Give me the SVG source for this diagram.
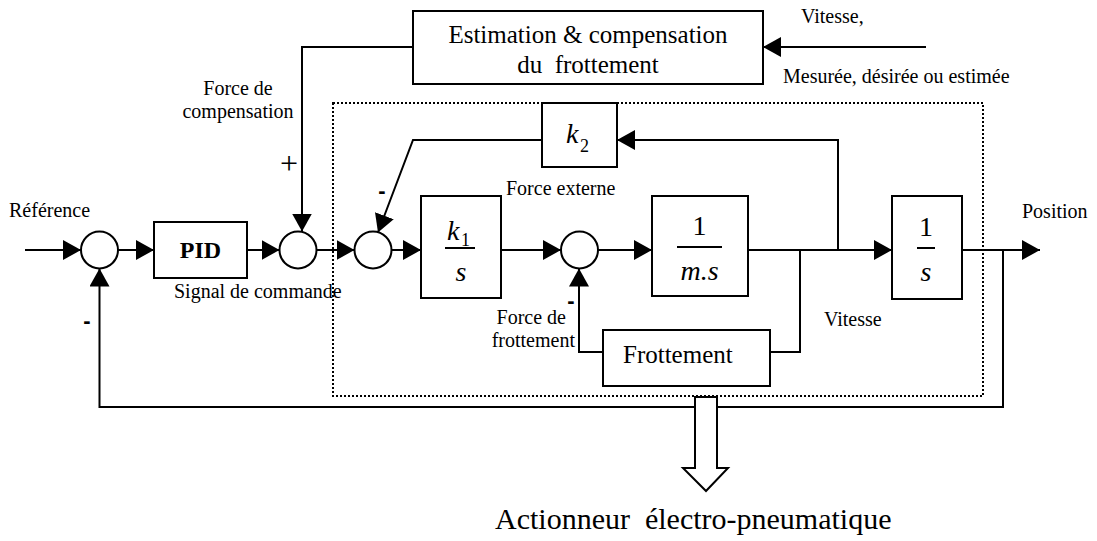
<svg xmlns="http://www.w3.org/2000/svg" width="1097" height="541" viewBox="0 0 1097 541">
<style>
.ln{fill:none;stroke:#000;stroke-width:2}
.ar{fill:none;stroke:#000;stroke-width:2;marker-end:url(#ah)}
.bx{fill:#fff;stroke:#000;stroke-width:2}
.sum{fill:#fff;stroke:#000;stroke-width:2}
.t{font-family:"Liberation Serif","Times New Roman",serif;fill:#000}
.lb{font-size:20px}
.big{font-size:25px}
.tf{font-size:28px}
.it{font-style:italic}
.sub{font-size:18px}
.mn{font-family:"Liberation Sans",Arial,sans-serif;font-weight:bold;font-size:22px;text-anchor:middle}
.c{text-anchor:middle}
</style>
<defs>
<marker id="ah" markerUnits="userSpaceOnUse" markerWidth="18" markerHeight="20" refX="18" refY="10" orient="auto">
<path d="M0,0 L18,10 L0,20 z" fill="#000"/>
</marker>
</defs>
<rect width="1097" height="541" fill="#fff"/>

<g id="actuator-boundary">
<rect x="333" y="103" width="650" height="293" fill="none" stroke="#000" stroke-width="2" stroke-dasharray="2 2"/>
</g>

<g id="connectors">
<path class="ar" d="M25,250 H81"/>
<path class="ar" d="M118,250 H154"/>
<path class="ar" d="M247,250 H279.5"/>
<path class="ar" d="M413,47 H302 V231.5"/>
<path class="ar" d="M926,47 H763"/>
<path class="ar" d="M316.5,250 H354.5"/>
<path class="ar" d="M391.5,250 H421"/>
<path class="ar" d="M501,250 H561"/>
<path class="ar" d="M598,250 H652"/>
<path class="ar" d="M748,250 H892"/>
<path class="ar" d="M838,250 V140 H617"/>
<path class="ar" d="M542,140 H413 L378,232.5"/>
<path class="ln" d="M800,250 V352 H770"/>
<path class="ar" d="M603,352 H579 V268.5"/>
<path class="ar" d="M962,250 H1040"/>
<path class="ar" d="M1003,250 V407 H99.5 V268.5"/>
</g>

<g id="sum1"><circle class="sum" cx="99.5" cy="250" r="18.5"/></g>
<g id="sum2"><circle class="sum" cx="298" cy="250" r="18.5"/></g>
<g id="sum3"><circle class="sum" cx="373" cy="250" r="18.5"/></g>
<g id="sum4"><circle class="sum" cx="579.5" cy="250" r="18.5"/></g>

<g id="estimation">
<rect class="bx" x="413" y="11" width="350" height="73"/>
<text class="t big c" x="588" y="43">Estimation &amp; compensation</text>
<text class="t big c" x="588" y="73" xml:space="preserve">du  frottement</text>
</g>

<g id="pid">
<rect class="bx" x="154" y="222" width="93" height="56"/>
<text class="t c" x="200.5" y="258" font-size="24" font-weight="bold">PID</text>
</g>

<g id="k2">
<rect class="bx" x="542" y="103" width="75" height="64"/>
<text class="t tf it" x="566" y="143">k</text>
<text class="t sub" x="580" y="152">2</text>
</g>

<g id="k1s">
<rect class="bx" x="421" y="196" width="80" height="102"/>
<text class="t tf it" x="447" y="240">k</text>
<text class="t sub" x="461" y="246">1</text>
<line class="ln" x1="445" y1="248" x2="475" y2="248"/>
<text class="t tf it c" x="461" y="281">s</text>
</g>

<g id="mass">
<rect class="bx" x="652" y="196" width="96" height="100"/>
<text class="t tf c" x="699.5" y="235">1</text>
<line class="ln" x1="677" y1="247" x2="722" y2="247"/>
<text class="t tf it c" x="699.5" y="280">m.s</text>
</g>

<g id="integrator">
<rect class="bx" x="892" y="196" width="70" height="103"/>
<text class="t tf c" x="926" y="236">1</text>
<line class="ln" x1="917" y1="248" x2="935" y2="248"/>
<text class="t tf it c" x="926" y="281">s</text>
</g>

<g id="frottement">
<rect class="bx" x="603" y="330" width="167" height="56"/>
<text class="t big" x="623" y="363">Frottement</text>
</g>

<g id="output-arrow">
<path d="M695,397 H717 V468 H728 L706,491 L683,468 H695 Z" fill="#fff" stroke="#000" stroke-width="2"/>
</g>

<g id="labels">
<text class="t lb" x="9" y="217">Référence</text>
<text class="t lb" x="174" y="298">Signal de commande</text>
<text class="t lb c" x="238" y="95">Force de</text>
<text class="t lb c" x="238" y="118">compensation</text>
<text class="t c" x="289" y="174" font-size="32">+</text>
<text class="t lb" x="801" y="23">Vitesse,</text>
<text class="t lb" x="783" y="83">Mesurée, désirée ou estimée</text>
<text class="t lb" x="506" y="195">Force externe</text>
<text class="t lb" x="1022" y="218">Position</text>
<text class="t lb" x="566" y="324" text-anchor="end">Force de</text>
<text class="t lb" x="575" y="347" text-anchor="end">frottement</text>
<text class="t lb" x="824" y="326">Vitesse</text>
<text class="t" x="495" y="529" font-size="30" xml:space="preserve">Actionneur  électro-pneumatique</text>
<text class="mn" x="382" y="198">-</text>
<text class="mn" x="87" y="328">-</text>
<text class="mn" x="571" y="308">-</text>
</g>
</svg>
